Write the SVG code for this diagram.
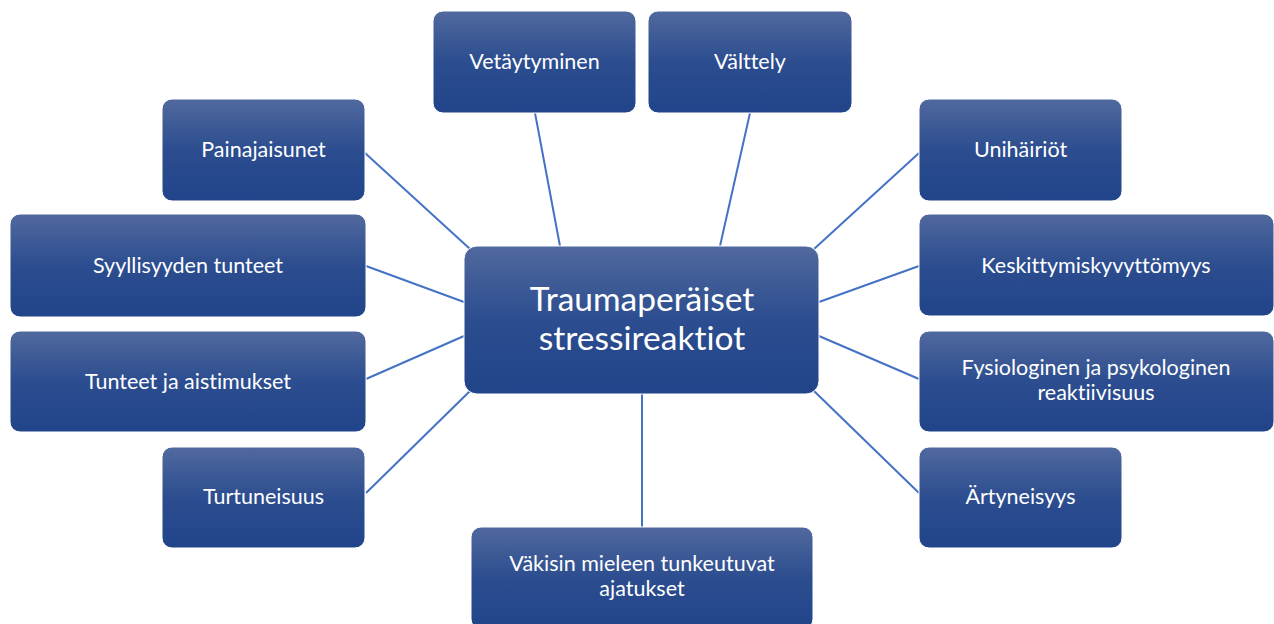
<svg xmlns="http://www.w3.org/2000/svg" width="1274" height="624" viewBox="0 0 1274 624">
<style>
.box{fill:url(#g);stroke:#ffffff;stroke-width:1}
.t{font-family:Lato,"Open Sans",sans-serif;font-size:21.5px;fill:#ffffff;text-anchor:middle;font-variant-ligatures:none}
.tc{font-family:Lato,"Open Sans",sans-serif;font-size:33.5px;fill:#ffffff;text-anchor:middle;font-variant-ligatures:none}
.c line{stroke:#4472c4;stroke-width:2}
</style>
<defs>
<linearGradient id="g" x1="0" y1="0" x2="0" y2="1">
<stop offset="0" stop-color="#51699e"/>
<stop offset="0.5" stop-color="#2c4d8f"/>
<stop offset="1" stop-color="#21448a"/>
</linearGradient>
</defs>
<rect width="1274" height="624" fill="#ffffff"/>
<g class="c" id="connectors">
<line x1="535" y1="113" x2="560" y2="246"/>
<line x1="750" y1="113" x2="720" y2="246"/>
<line x1="365" y1="153" x2="470" y2="249"/>
<line x1="919" y1="153" x2="814" y2="249"/>
<line x1="366" y1="266" x2="464" y2="302"/>
<line x1="366" y1="379" x2="464" y2="336"/>
<line x1="919" y1="266" x2="819" y2="302"/>
<line x1="919" y1="379" x2="819" y2="336"/>
<line x1="366" y1="493" x2="470" y2="391"/>
<line x1="919" y1="493" x2="814" y2="391"/>
<line x1="642" y1="394" x2="642" y2="527"/>
</g>
<g id="n-center"><rect class="box" x="464" y="246" width="355" height="148" rx="13"/><text class="tc" x="642" y="311">Traumaperäiset</text><text class="tc" x="642" y="350">stressireaktiot</text></g>
<g id="n-vetaytyminen"><rect class="box" x="433" y="11" width="203" height="102" rx="10"/><text class="t" x="534.5" y="69">Vetäytyminen</text></g>
<g id="n-valttely"><rect class="box" x="648" y="11" width="204" height="102" rx="10"/><text class="t" x="750" y="69">Välttely</text></g>
<g id="n-painajaisunet"><rect class="box" x="162" y="99" width="203" height="102" rx="10"/><text class="t" x="263.5" y="157">Painajaisunet</text></g>
<g id="n-unihairiot"><rect class="box" x="919" y="99" width="203" height="102" rx="10"/><text class="t" x="1020.5" y="157">Unihäiriöt</text></g>
<g id="n-syyllisyyden"><rect class="box" x="10" y="214" width="356" height="103" rx="10"/><text class="t" x="188" y="273">Syyllisyyden tunteet</text></g>
<g id="n-tunteet"><rect class="box" x="10" y="331" width="356" height="101" rx="10"/><text class="t" x="188" y="389">Tunteet ja aistimukset</text></g>
<g id="n-keskittymis"><rect class="box" x="919" y="214" width="355" height="102" rx="10"/><text class="t" x="1096" y="273">Keskittymiskyvyttömyys</text></g>
<g id="n-fysiologinen"><rect class="box" x="919" y="331" width="355" height="101" rx="10"/><text class="t" x="1096" y="375">Fysiologinen ja psykologinen</text><text class="t" x="1096" y="400">reaktiivisuus</text></g>
<g id="n-turtuneisuus"><rect class="box" x="162" y="447" width="203" height="101" rx="10"/><text class="t" x="263.5" y="504">Turtuneisuus</text></g>
<g id="n-artyneisyys"><rect class="box" x="919" y="447" width="203" height="101" rx="10"/><text class="t" x="1020.5" y="504">Ärtyneisyys</text></g>
<g id="n-vakisin"><rect class="box" x="471" y="527" width="342" height="102" rx="10"/><text class="t" x="642" y="571">Väkisin mieleen tunkeutuvat</text><text class="t" x="642" y="596">ajatukset</text></g>
</svg>
